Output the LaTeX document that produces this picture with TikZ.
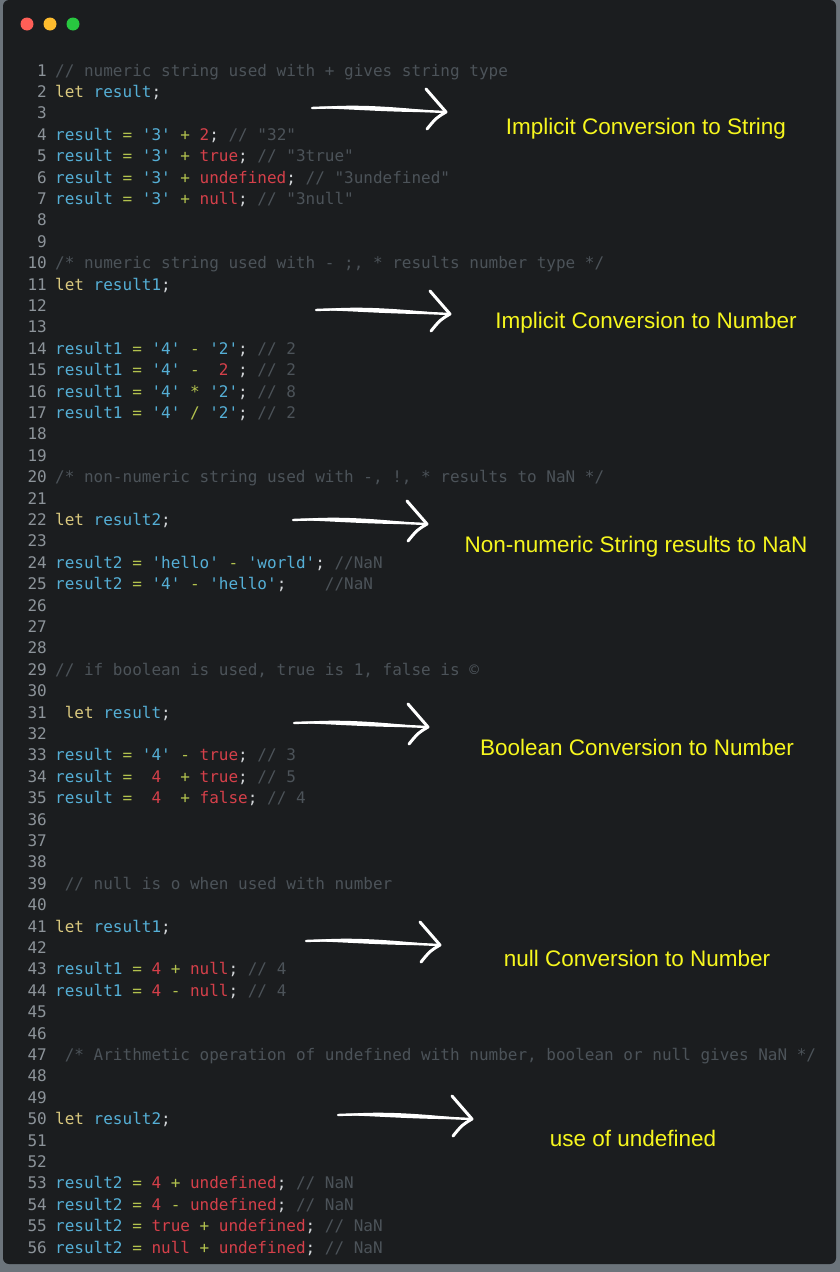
\documentclass[tikz,border=0pt]{standalone}
\usepackage{fontspec}
\usetikzlibrary{calc}
\setmonofont{DejaVu Sans Mono}
\newfontfamily\labelfont{Liberation Sans}
\definecolor{outerbg}{HTML}{6C747B}
\definecolor{winbg}{HTML}{1B1D1F}
\definecolor{numc}{HTML}{8C9399}
\definecolor{comc}{HTML}{4C5359}
\definecolor{kwc}{HTML}{D9C87E}
\definecolor{varc}{HTML}{55AFD6}
\definecolor{opc}{HTML}{B3C24E}
\definecolor{litc}{HTML}{D5404A}
\definecolor{punc}{HTML}{D2D5D8}
\definecolor{labc}{HTML}{F6F61E}
% code tokens
\newcommand\ckw[1]{\textcolor{kwc}{#1}}
\newcommand\cvar[1]{\textcolor{varc}{#1}}
\newcommand\cop[1]{\textcolor{opc}{#1}}
\newcommand\cstr[1]{\textcolor{varc}{#1}}
\newcommand\clit[1]{\textcolor{litc}{#1}}
\newcommand\ccom[1]{\textcolor{comc}{#1}}
\newcommand\cpun{\textcolor{punc}{;}}
\tikzset{
  lnum/.style={anchor=base east, inner sep=0pt, text=numc, font=\ttfamily\fontsize{16}{16}\selectfont},
  codeline/.style={anchor=base west, inner sep=0pt, font=\ttfamily\fontsize{16}{16}\selectfont},
  note/.style={text=labc, font=\labelfont\fontsize{22.5}{24}\selectfont},
  swoosh/.style={draw=white, line width=3.2pt, line cap=round, line join=round},
  light/.style={circle, inner sep=0pt, minimum size=13pt}
}
% baseline of code line #1
\newcommand\ly[1]{{76+(#1-1)*21.4}}
\begin{document}
\begin{tikzpicture}[x=1pt, y=-1pt]
\useasboundingbox (0,0) rectangle (840,1272);
\fill[outerbg] (0,0) rectangle (840,1272);
\fill[winbg, rounded corners=6pt] (3,0) rectangle (836,1264);

% window buttons
\node[light, fill={rgb,255:red,254;green,95;blue,87}] (red) at (27,24) {};
\node[light, fill={rgb,255:red,254;green,188;blue,46}] (amber) at (50,24) {};
\node[light, fill={rgb,255:red,40;green,200;blue,64}] (green) at (73,24) {};

% line numbers
\foreach \n in {1,...,56}
  \node[lnum] (n\n) at (47,\ly{\n}) {\n};

% code
\node[codeline] (c1) at (55,\ly{1}) {\ccom{// numeric string used with + gives string type}};
\node[codeline] (c2) at (55,\ly{2}) {\ckw{let} \cvar{result}\cpun};
\node[codeline] (c4) at (55,\ly{4}) {\cvar{result} \cop{=} \cstr{'3'} \cop{+} \clit{2}\cpun{} \ccom{// "32"}};
\node[codeline] (c5) at (55,\ly{5}) {\cvar{result} \cop{=} \cstr{'3'} \cop{+} \clit{true}\cpun{} \ccom{// "3true"}};
\node[codeline] (c6) at (55,\ly{6}) {\cvar{result} \cop{=} \cstr{'3'} \cop{+} \clit{undefined}\cpun{} \ccom{// "3undefined"}};
\node[codeline] (c7) at (55,\ly{7}) {\cvar{result} \cop{=} \cstr{'3'} \cop{+} \clit{null}\cpun{} \ccom{// "3null"}};
\node[codeline] (c10) at (55,\ly{10}) {\ccom{/* numeric string used with - ;, * results number type */}};
\node[codeline] (c11) at (55,\ly{11}) {\ckw{let} \cvar{result1}\cpun};
\node[codeline] (c14) at (55,\ly{14}) {\cvar{result1} \cop{=} \cstr{'4'} \cop{-} \cstr{'2'}\cpun{} \ccom{// 2}};
\node[codeline] (c15) at (55,\ly{15}) {\cvar{result1} \cop{=} \cstr{'4'} \cop{-}~~\clit{2} \cpun{} \ccom{// 2}};
\node[codeline] (c16) at (55,\ly{16}) {\cvar{result1} \cop{=} \cstr{'4'} \cop{*} \cstr{'2'}\cpun{} \ccom{// 8}};
\node[codeline] (c17) at (55,\ly{17}) {\cvar{result1} \cop{=} \cstr{'4'} \cop{/} \cstr{'2'}\cpun{} \ccom{// 2}};
\node[codeline] (c20) at (55,\ly{20}) {\ccom{/* non-numeric string used with -, !, * results to NaN */}};
\node[codeline] (c22) at (55,\ly{22}) {\ckw{let} \cvar{result2}\cpun};
\node[codeline] (c24) at (55,\ly{24}) {\cvar{result2} \cop{=} \cstr{'hello'} \cop{-} \cstr{'world'}\cpun{} \ccom{//NaN}};
\node[codeline] (c25) at (55,\ly{25}) {\cvar{result2} \cop{=} \cstr{'4'} \cop{-} \cstr{'hello'}\cpun{}~~~~\ccom{//NaN}};
\node[codeline] (c29) at (55,\ly{29}) {\ccom{// if boolean is used, true is 1, false is ©}};
\node[codeline] (c31) at (55,\ly{31}) {~\ckw{let} \cvar{result}\cpun};
\node[codeline] (c33) at (55,\ly{33}) {\cvar{result} \cop{=} \cstr{'4'} \cop{-} \clit{true}\cpun{} \ccom{// 3}};
\node[codeline] (c34) at (55,\ly{34}) {\cvar{result} \cop{=}~~\clit{4}~~\cop{+} \clit{true}\cpun{} \ccom{// 5}};
\node[codeline] (c35) at (55,\ly{35}) {\cvar{result} \cop{=}~~\clit{4}~~\cop{+} \clit{false}\cpun{} \ccom{// 4}};
\node[codeline] (c39) at (55,\ly{39}) {~\ccom{// null is o when used with number}};
\node[codeline] (c41) at (55,\ly{41}) {\ckw{let} \cvar{result1}\cpun};
\node[codeline] (c43) at (55,\ly{43}) {\cvar{result1} \cop{=} \clit{4} \cop{+} \clit{null}\cpun{} \ccom{// 4}};
\node[codeline] (c44) at (55,\ly{44}) {\cvar{result1} \cop{=} \clit{4} \cop{-} \clit{null}\cpun{} \ccom{// 4}};
\node[codeline] (c47) at (55,\ly{47}) {~\ccom{/* Arithmetic operation of undefined with number, boolean or null gives NaN */}};
\node[codeline] (c50) at (55,\ly{50}) {\ckw{let} \cvar{result2}\cpun};
\node[codeline] (c53) at (55,\ly{53}) {\cvar{result2} \cop{=} \clit{4} \cop{+} \clit{undefined}\cpun{} \ccom{// NaN}};
\node[codeline] (c54) at (55,\ly{54}) {\cvar{result2} \cop{=} \clit{4} \cop{-} \clit{undefined}\cpun{} \ccom{// NaN}};
\node[codeline] (c55) at (55,\ly{55}) {\cvar{result2} \cop{=} \clit{true} \cop{+} \clit{undefined}\cpun{} \ccom{// NaN}};
\node[codeline] (c56) at (55,\ly{56}) {\cvar{result2} \cop{=} \clit{null} \cop{+} \clit{undefined}\cpun{} \ccom{// NaN}};

% labels
\node[note] (lab1) at (646,129) {Implicit Conversion to String};
\node[note] (lab2) at (646,323) {Implicit Conversion to Number};
\node[note] (lab3) at (636,547) {Non-numeric String results to NaN};
\node[note] (lab4) at (637,747) {Boolean Conversion to Number};
\node[note] (lab5) at (637,958) {null Conversion to Number};
\node[note] (lab6) at (633,1138) {use of undefined};

% hand drawn arrows: tail / tip
\foreach \i/\tx/\ty in {1/446/112, 2/450/314, 3/427/524, 4/428/727, 5/440/945, 6/472/1119} {
  \coordinate (tip\i) at (\tx,\ty);
  \coordinate (tail\i) at ($(tip\i)+(-134,-4)$);
  \draw[swoosh, line width=2.4pt] (tail\i) .. controls ($(tail\i)+(40,-2)$) and ($(tip\i)+(-50,-2)$) .. (tip\i);
  \fill[white] (tail\i) .. controls ($(tail\i)+(40,-5)$) and ($(tip\i)+(-50,-5)$) .. (tip\i)
     .. controls ($(tip\i)+(-50,1)$) and ($(tail\i)+(40,1)$) .. (tail\i) -- cycle;
  \draw[swoosh, line width=3pt] ($(tip\i)+(-20,-23)$) .. controls ($(tip\i)+(-10,-12)$) .. (tip\i)
     .. controls ($(tip\i)+(-10,6)$) .. ($(tip\i)+(-19,17)$);
}
\end{tikzpicture}
\end{document}
